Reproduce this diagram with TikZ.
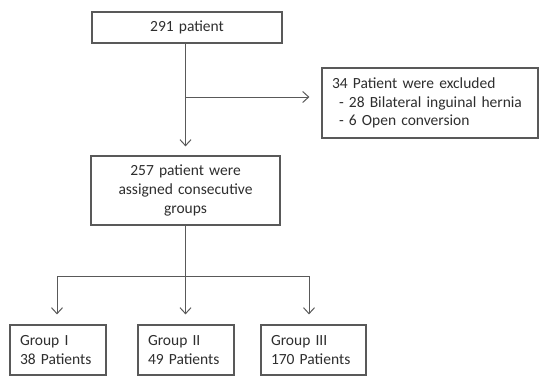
\documentclass[tikz,border=0pt]{standalone}
\usepackage{fontspec}
\setmainfont{Carlito}
\usetikzlibrary{arrows.meta}
\definecolor{linec}{HTML}{595959}
\definecolor{textc}{HTML}{2E2E2E}
\begin{document}
\begin{tikzpicture}[x=1pt,y=-1pt,
  box/.style={draw=linec, line width=1.2pt, fill=white, inner ysep=0pt, inner xsep=10pt,
    text=textc, font=\fontsize{15.5}{18.7}\selectfont},
  conn/.style={draw=linec, line width=1pt},
  arr/.style={conn, -{Straight Barb[length=6pt,width=11pt,line width=1pt]}}]
\useasboundingbox (0,0) rectangle (540,376);
\node[box, minimum width=190pt, minimum height=31pt, text width=170pt, align=center] (top) at (187,27.5) {291 patient};
\node[box, minimum width=216pt, minimum height=70pt, text width=196pt, align=left] (excl) at (430,103)
  {34 Patient were excluded\\\hspace*{7pt}- 28 Bilateral inguinal hernia\\\hspace*{7pt}- 6 Open conversion};
\node[box, minimum width=189pt, minimum height=69pt, text width=169pt, align=center] (mid) at (185.5,190.5)
  {257 patient were\\assigned consecutive\\groups};
\node[box, minimum width=96pt, minimum height=50pt, text width=76pt, align=left] (g1) at (58,350) {Group I\\38 Patients};
\node[box, minimum width=96pt, minimum height=50pt, text width=76pt, align=left] (g2) at (186,350) {Group II\\49 Patients};
\node[box, minimum width=105pt, minimum height=50pt, text width=85pt, align=left] (g3) at (313.5,350) {Group III\\170 Patients};
\coordinate (br) at (185.5,97);
\coordinate (split) at (185.5,276);
\coordinate (s1) at (57,276);
\coordinate (s3) at (309,276);
\draw[arr, shorten >=9pt] (top.south -| mid.north) -- (mid.north);
\draw[arr, shorten >=12pt] (br) -- (excl.west |- br);
\draw[conn] (mid.south) -- (split);
\draw[conn] (s1) -- (s3);
\draw[arr, shorten >=10pt] (s1) -- (s1 |- g1.north);
\draw[arr, shorten >=10pt] (split) -- (split |- g2.north);
\draw[arr, shorten >=10pt] (s3) -- (s3 |- g3.north);
\end{tikzpicture}
\end{document}
